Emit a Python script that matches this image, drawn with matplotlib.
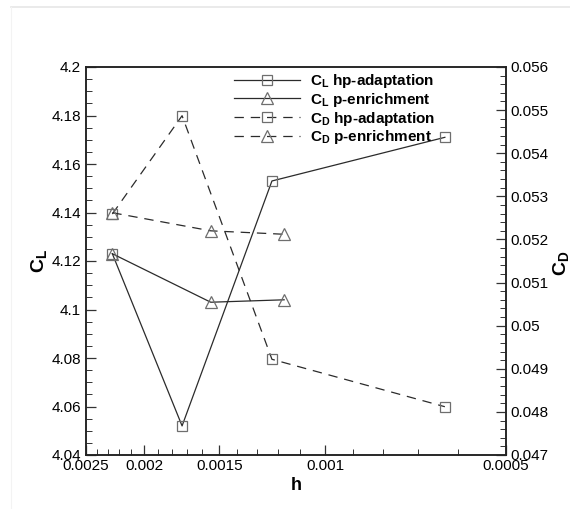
import matplotlib
matplotlib.use("Agg")
import matplotlib.pyplot as plt
from matplotlib.ticker import FixedLocator, FixedFormatter, MultipleLocator, NullFormatter
from matplotlib.lines import Line2D

plt.rcParams['font.family'] = ['Liberation Sans', 'DejaVu Sans']
plt.rcParams['mathtext.fontset'] = 'custom'
plt.rcParams['mathtext.rm'] = 'Liberation Sans'
plt.rcParams['mathtext.bf'] = 'Liberation Sans:bold'
plt.rcParams['mathtext.it'] = 'Liberation Sans:italic'

# Data
h_hp = [0.00226, 0.00173, 0.001226, 0.000632]
h_p = [0.00226, 0.00155, 0.00117]
cl_hp = [4.123, 4.052, 4.153, 4.171]
cl_p = [4.123, 4.103, 4.104]
cd_hp = [0.05259, 0.05487, 0.04922, 0.04812]
cd_p = [0.05262, 0.0522, 0.05212]

x_major = [0.0025, 0.002, 0.0015, 0.001, 0.0005]
x_major_labels = ['0.0025', '0.002', '0.0015', '0.001', '0.0005']
x_minor = [i * 1e-4 for i in range(6, 25) if i not in (10, 15, 20)]
cl_ticks = [4.04, 4.06, 4.08, 4.1, 4.12, 4.14, 4.16, 4.18, 4.2]
cl_tick_labels = ['4.04', '4.06', '4.08', '4.1', '4.12', '4.14', '4.16', '4.18', '4.2']
cd_ticks = [0.047, 0.048, 0.049, 0.05, 0.051, 0.052, 0.053, 0.054, 0.055, 0.056]
cd_tick_labels = ['0.047', '0.048', '0.049', '0.05', '0.051', '0.052', '0.053', '0.054', '0.055', '0.056']

labels = [r'$\mathbf{C_L}$ hp-adaptation', r'$\mathbf{C_L}$ p-enrichment',
          r'$\mathbf{C_D}$ hp-adaptation', r'$\mathbf{C_D}$ p-enrichment']

W, H = 570, 509
fig = plt.figure(figsize=(W / 100, H / 100), dpi=100)
ax = fig.add_axes([86 / W, 1 - 455 / H, 420 / W, 388 / H])
ax2 = ax.twinx()

lc = '#2b2b2b'
mc = '#6e6e6e'
dash = (0, (7.5, 5.5))
common = dict(color=lc, lw=0.9, markerfacecolor='none', markeredgecolor=mc, markeredgewidth=0.9)

l1, = ax.plot(h_hp, cl_hp, marker='s', ms=7.5, ls='-', **common)
l2, = ax.plot(h_p, cl_p, marker='^', ms=9, ls='-', **common)
l3, = ax2.plot(h_hp, cd_hp, marker='s', ms=7.5, ls=dash, **common)
l4, = ax2.plot(h_p, cd_p, marker='^', ms=9, ls=dash, **common)

ax.set_xscale('log')
ax.set_xlim(0.0025, 0.0005)
ax.xaxis.set_major_locator(FixedLocator(x_major))
ax.xaxis.set_major_formatter(FixedFormatter(x_major_labels))
ax.xaxis.set_minor_locator(FixedLocator(x_minor))
ax.xaxis.set_minor_formatter(NullFormatter())

ax.set_ylim(4.04, 4.2)
ax.set_yticks(cl_ticks)
ax.set_yticklabels(cl_tick_labels)
ax.yaxis.set_minor_locator(MultipleLocator(0.005))

ax2.set_ylim(0.047, 0.056)
ax2.set_yticks(cd_ticks)
ax2.set_yticklabels(cd_tick_labels)
ax2.yaxis.set_minor_locator(MultipleLocator(0.0002))

for a in (ax, ax2):
    for s in a.spines.values():
        s.set_linewidth(1.1)
        s.set_color('#222222')
ax.tick_params(which='both', direction='in', top=False, right=False, labelsize=11, color='#333333')
ax.tick_params(which='major', length=7, width=0.9)
ax.tick_params(which='minor', length=4, width=0.7)
ax.tick_params(axis='x', pad=3)
ax2.tick_params(which='both', direction='in', left=False, labelsize=11, color='#333333')
ax2.tick_params(which='major', length=7, width=0.9)
ax2.tick_params(which='minor', length=4, width=0.7)

ax.set_xlabel('h', fontsize=13, fontweight='bold', labelpad=3)
ax.set_ylabel(r'$\mathbf{C_L}$', fontsize=14, labelpad=2)
fig.text(561 / W, 1 - 263 / H, r'$\mathbf{C_D}$', fontsize=14, rotation=90,
         ha='center', va='center')

leg = ax.legend([l1, l2, l3, l4], labels, loc='upper left', bbox_to_anchor=(0.345, 0.995),
                frameon=False, fontsize=11, handlelength=4.3, handletextpad=0.7,
                labelspacing=0.05, borderpad=0.2, borderaxespad=0)
for t in leg.get_texts():
    t.set_fontweight('bold')

# faint page border
fig.add_artist(Line2D([11 / W, 1], [1 - 7 / H, 1 - 7 / H], color='#e6e6e6', lw=1.2))
fig.add_artist(Line2D([11 / W, 11 / W], [0, 1 - 7 / H], color='#f3f3f3', lw=0.8))

fig.savefig('out.png', dpi=100)
